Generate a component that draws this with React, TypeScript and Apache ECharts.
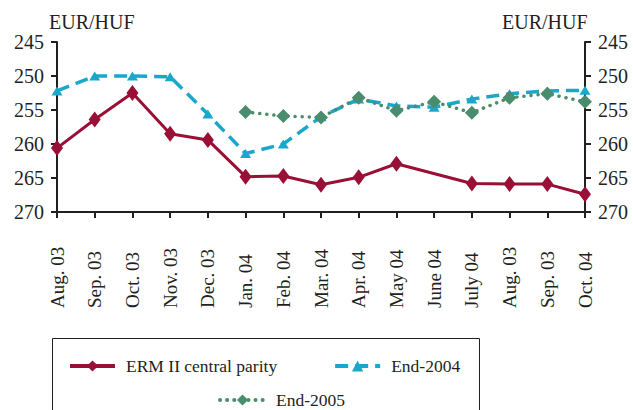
import React, { useEffect, useRef } from "react";
import * as echarts from "echarts";

const categories = [
  "Aug. 03", "Sep. 03", "Oct. 03", "Nov. 03", "Dec. 03", "Jan. 04", "Feb. 04",
  "Mar. 04", "Apr. 04", "May 04", "June 04", "July 04", "Aug. 03", "Sep. 03", "Oct. 04",
];
const ermParity = [260.6, 256.4, 252.5, 258.5, 259.4, 264.8, 264.7, 266.0, 264.9, 262.9, null, 265.8, 265.9, 265.9, 267.4];
const end2004 = [252.2, 250.0, 250.0, 250.1, 255.6, 261.4, 260.0, 256.0, 253.4, 254.4, 254.6, 253.4, 252.6, 252.2, 252.1];
const end2005 = [null, null, null, null, null, 255.3, 255.9, 256.1, 253.2, 255.1, 253.8, 255.4, 253.2, 252.6, 253.8];
const yTicks = { min: 245, max: 270, interval: 5 };
const unitLabel = "EUR/HUF";

const FONT = "Liberation Serif";
const INK = "#231f20";
const RED = "#990f35";
const CYAN = "#19a8cc";
const GREEN = "#4a8c6e";

export default function App() {
  const ref = useRef<HTMLDivElement>(null);
  useEffect(() => {
    if (!ref.current) return;
    const chart = echarts.init(ref.current, null, { renderer: "svg" });
    const yAxisBase = {
      type: "value",
      inverse: true,
      min: yTicks.min,
      max: yTicks.max,
      interval: yTicks.interval,
      splitLine: { show: false },
      axisLine: { show: true, lineStyle: { color: INK, width: 2 } },
      axisTick: { show: true, length: 6, lineStyle: { color: INK, width: 2 } },
      axisLabel: { color: INK, fontFamily: FONT, fontSize: 20, margin: 13 },
    };
    const legendText = { fontFamily: FONT, fontSize: 17.5, color: INK, padding: [0, 0, 0, 6] };
    chart.setOption({
      animation: false,
      backgroundColor: "#ffffff",
      grid: { left: 57, right: 48, top: 42, bottom: 198, containLabel: false, outerBoundsMode: "none" },
      xAxis: {
        type: "category",
        data: categories,
        boundaryGap: false,
        axisLine: { lineStyle: { color: INK, width: 2 } },
        axisTick: { show: true, length: 6, alignWithLabel: true, interval: 0, lineStyle: { color: INK, width: 2 } },
        axisLabel: {
          interval: 0,
          rotate: 90,
          align: "left",
          verticalAlign: "middle",
          margin: 96,
          color: INK,
          fontFamily: FONT,
          fontSize: 19,
          formatter: (_v: string, i: number) => categories[i],
        },
      },
      yAxis: [
        { ...yAxisBase, position: "left" },
        { ...yAxisBase, position: "right" },
      ],
      legend: [
        {
          data: [
            { name: "ERM II central parity", lineStyle: { width: 4 } },
            { name: "End-2004", lineStyle: { width: 4 } },
          ],
          left: 68,
          top: 357,
          padding: 0,
          itemWidth: 45,
          itemHeight: 14,
          itemGap: 56,
          textStyle: legendText,
        },
        {
          data: [{ name: "End-2005", lineStyle: { width: 4 } }],
          left: 218,
          top: 391,
          padding: 0,
          itemWidth: 45,
          itemHeight: 14,
          textStyle: legendText,
        },
      ],
      graphic: [
        {
          type: "rect",
          left: 50,
          top: 336,
          shape: { width: 427, height: 100 },
          style: { fill: "none", stroke: INK, lineWidth: 1 },
        },
        {
          type: "text",
          left: 49,
          top: 12,
          style: { text: unitLabel, fontFamily: FONT, fontSize: 20, fill: INK },
        },
        {
          type: "text",
          left: 502,
          top: 12,
          style: { text: unitLabel, fontFamily: FONT, fontSize: 20, fill: INK },
        },
      ],
      series: [
        {
          name: "ERM II central parity",
          type: "line",
          data: ermParity,
          connectNulls: true,
          symbol: "diamond",
          symbolSize: [12, 16],
          itemStyle: { color: RED },
          lineStyle: { color: RED, width: 3 },
          z: 3,
        },
        {
          name: "End-2004",
          type: "line",
          data: end2004,
          symbol: "triangle",
          symbolSize: [11, 9],
          itemStyle: { color: CYAN },
          lineStyle: { color: CYAN, width: 3.5, type: [13, 7] },
          z: 2,
        },
        {
          name: "End-2005",
          type: "line",
          data: end2005,
          symbol: "diamond",
          symbolSize: 14,
          itemStyle: { color: GREEN },
          lineStyle: { color: GREEN, width: 3.5, type: [0.1, 7], cap: "round" },
          z: 4,
        },
      ],
    });
    return () => chart.dispose();
  }, []);
  return (
    <div
      ref={ref}
      style={{ position: "fixed", left: 0, top: 0, width: 633, height: 410, background: "#fff" }}
    />
  );
}
